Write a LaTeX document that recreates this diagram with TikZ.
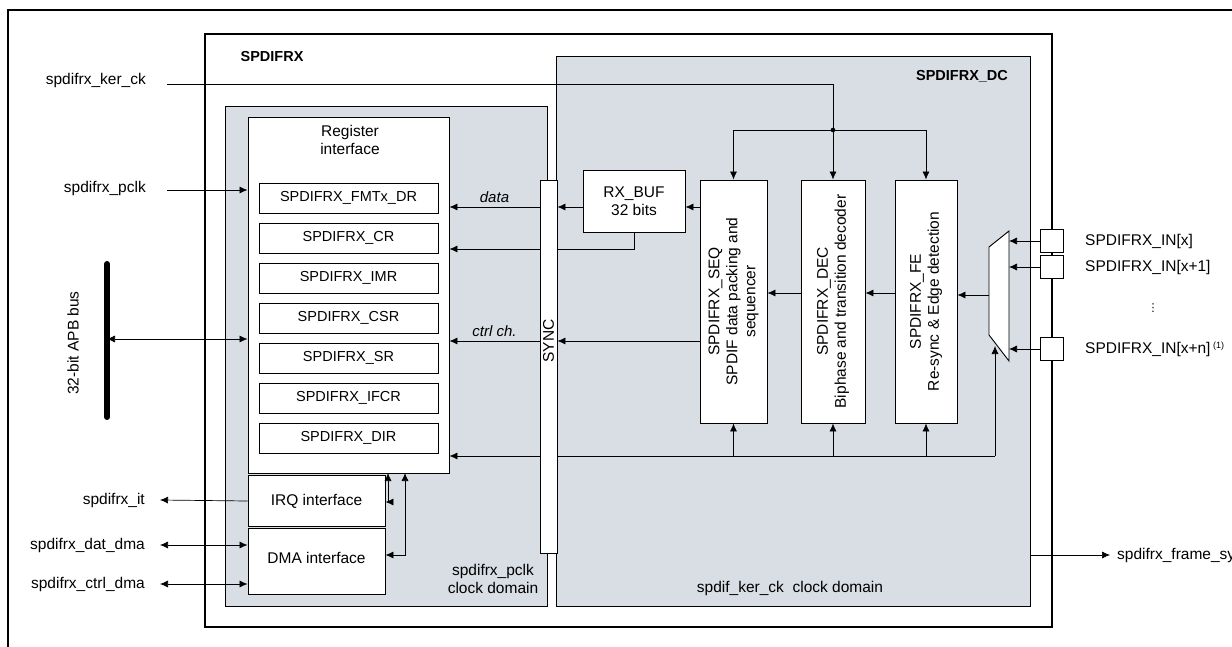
\documentclass[tikz,border=0pt]{standalone}
\usepackage{fontspec}
\setmainfont{Liberation Sans}
\newfontfamily\dvfont{DejaVu Sans}
\usetikzlibrary{arrows.meta}
\definecolor{dgray}{HTML}{D9DDE4}
\begin{document}
\fontsize{15.5}{18}\selectfont
\begin{tikzpicture}[x=1pt,y=-1pt,
  every node/.style={font=\fontsize{15.5}{18}\selectfont},
  box/.style={draw,fill=white,line width=0.9pt,inner sep=0pt,align=center},
  reg/.style={box,minimum width=179pt,minimum height=30pt,font=\fontsize{14.5}{17}\selectfont},
  con/.style={line width=0.7pt},
  arr/.style={con,-{Latex[length=8pt,width=7pt]}},
  darr/.style={con,{Latex[length=8pt,width=7pt]}-{Latex[length=8pt,width=7pt]}},
  lbl/.style={inner sep=0pt}]
\useasboundingbox (0,0) rectangle (1232,647);
\draw[line width=1.5pt] (8,647) -- (8,10) -- (1232,10);
% SPDIFRX
\draw[line width=1.2pt] (205,34) rectangle (1052,627);
\node[lbl,font=\bfseries\fontsize{14.5}{17}\selectfont] (tsp) at (272,57) {SPDIFRX};
\draw[fill=dgray,line width=1pt] (556,57) rectangle (1030,606);
\node[lbl,font=\bfseries\fontsize{14.5}{17}\selectfont] (tdc) at (962,76) {SPDIFRX\_DC};
\draw[fill=dgray,line width=1pt] (225,107) rectangle (547,606);
\node[lbl,align=center] (tpc) at (493,579) {spdifrx\_pclk\\clock domain};
\node[lbl] (tkc) at (790,588) {spdif\_ker\_ck\ \ clock domain};
% register interface
\node[box,minimum width=201pt,minimum height=356pt] (ri) at (348.5,295) {};
\node[lbl,align=center] (rit) at (350,140) {Register\\interface};
\node[reg] (r1) at (348.5,198) {SPDIFRX\_FMTx\_DR};
\node[reg] (r2) at (348.5,238) {SPDIFRX\_CR};
\node[reg] (r3) at (348.5,278) {SPDIFRX\_IMR};
\node[reg] (r4) at (348.5,318) {SPDIFRX\_CSR};
\node[reg] (r5) at (348.5,358) {SPDIFRX\_SR};
\node[reg] (r6) at (348.5,398) {SPDIFRX\_IFCR};
\node[reg] (r7) at (348.5,438) {SPDIFRX\_DIR};
\node[box,minimum width=137pt,minimum height=51pt] (irq) at (316.5,501) {IRQ interface};
\node[box,minimum width=137pt,minimum height=66pt,anchor=north] (dma) at (316.5,528) {\raisebox{8pt}{DMA interface}};
% SYNC
\node[box,minimum width=17pt,minimum height=373pt] (sync) at (548.5,366.5) {};
\node[lbl,rotate=90] (synct) at (548.5,341) {SYNC};
\node[box,minimum width=102pt,minimum height=62pt] (rxb) at (634,201) {RX\_BUF\\32 bits};
\node[box,minimum width=67pt,minimum height=243pt] (seq) at (733.5,301.5) {};
\node[lbl,rotate=90,align=center] at (seq.center) {SPDIFRX\_SEQ\\SPDIF data packing and\\sequencer};
\node[box,minimum width=64pt,minimum height=243pt] (dec) at (833,301.5) {};
\node[lbl,rotate=90,align=center] at (dec.center) {SPDIFRX\_DEC\\Biphase and transition decoder};
\node[box,minimum width=62pt,minimum height=243pt] (fe) at (926,301.5) {};
\node[lbl,rotate=90,align=center] at (fe.center) {SPDIFRX\_FE\\Re-sync \& Edge detection};
% mux
\draw[box] (989,247) -- (1009,231) -- (1009,361) -- (989,335) -- cycle;
\coordinate (muxo) at (989,295);
% pins
\draw[line width=0.9pt] (1052,34) -- (1052,627);
\foreach \n/\y in {p1/241,p2/267,p3/349}
  \node[box,minimum size=23pt] (\n) at (1052,\y) {};
\foreach \n/\y in {p1/241,p2/267,p3/349}
  \draw[arr] (\n.west) -- (1009,\y);
\node[lbl,anchor=west] (l1) at (1085,241) {SPDIFRX\_IN[x]};
\node[lbl,anchor=west] (l2) at (1085,267) {SPDIFRX\_IN[x+1]};
\node[lbl,font=\dvfont\fontsize{11}{12}\selectfont] (ld) at (1153,308) {⋮};
\node[lbl,anchor=west] (l3) at (1085,349) {SPDIFRX\_IN[x+n]\,\textsuperscript{\fontsize{9}{10}\selectfont (1)}};
% inner data path
\draw[arr] (muxo) -- (fe.east |- muxo);
\draw[arr] (fe.west |- 0,293) -- (dec.east |- 0,293);
\draw[arr] (dec.west |- 0,293) -- (seq.east |- 0,293);
\draw[arr] (seq.west |- 0,207) -- (rxb.east |- 0,207);
\draw[arr] (rxb.west |- 0,207) -- (sync.east |- 0,207);
\draw[con] (rxb.south) |- (sync.east |- 0,249);
\draw[arr] (seq.west |- 0,341) -- (sync.east |- 0,341);
\draw[arr] (sync.west |- 0,207) -- node[lbl,above=4pt,font=\itshape\fontsize{15}{17}\selectfont] {data} (ri.east |- 0,207);
\draw[arr] (sync.west |- 0,249) -- (ri.east |- 0,249);
\draw[arr] (sync.west |- 0,341) -- node[lbl,above=4pt,font=\itshape\fontsize{15}{17}\selectfont] {ctrl ch.} (ri.east |- 0,341);
\draw[arr] (sync.west |- 0,456) -- (ri.east |- 0,456);
% bottom control bus
\coordinate (bb) at (995,456);
\draw[con] (bb) -- (sync.east |- bb);
\draw[arr] (bb) -- (995,346);
\draw[arr] (seq.south |- bb) -- (seq.south);
\draw[arr] (dec.south |- bb) -- (dec.south);
\draw[arr] (fe.south |- bb) -- (fe.south);
% kernel clock
\node[lbl,anchor=east] (kck) at (146,80) {spdifrx\_ker\_ck};
\coordinate (jn) at (833,130);
\draw[con] (167,84) -| (jn);
\fill (jn) circle (2.3pt);
\draw[arr] (jn) -- (dec.north);
\draw[arr] (jn) -| (seq.north);
\draw[arr] (jn) -| (fe.north);
% left signals
\node[lbl,anchor=east] (pck) at (146,188) {spdifrx\_pclk};
\coordinate (pcks) at (167,190);
\draw[arr] (pcks) -- (ri.west |- pcks);
\draw[line width=6pt,line cap=round] (107,264) -- (107,417);
\coordinate (apb) at (107,339);
\node[lbl,rotate=90] (apbt) at (73,343) {32-bit APB bus};
\draw[darr] (apb) -- (ri.west |- apb);
\node[lbl,anchor=east] (it) at (145,500) {spdifrx\_it};
\draw[arr] (irq.west) -- (160,500);
\node[lbl,anchor=east] (dd) at (145,545) {spdifrx\_dat\_dma};
\draw[darr] (160,545) -- (dma.west |- 0,545);
\node[lbl,anchor=east] (cd) at (145,584) {spdifrx\_ctrl\_dma};
\draw[darr] (160,584) -- (dma.west |- 0,584);
\draw[darr] (irq.east |- 0,502) -| (388,473);
\draw[darr] (dma.east |- 0,555) -| (405,473);
% frame sync
\node[lbl,anchor=west] (fs) at (1117,555) {spdifrx\_frame\_sync};
\draw[arr] (1030,555) -- (1110,555);
\end{tikzpicture}
\end{document}
